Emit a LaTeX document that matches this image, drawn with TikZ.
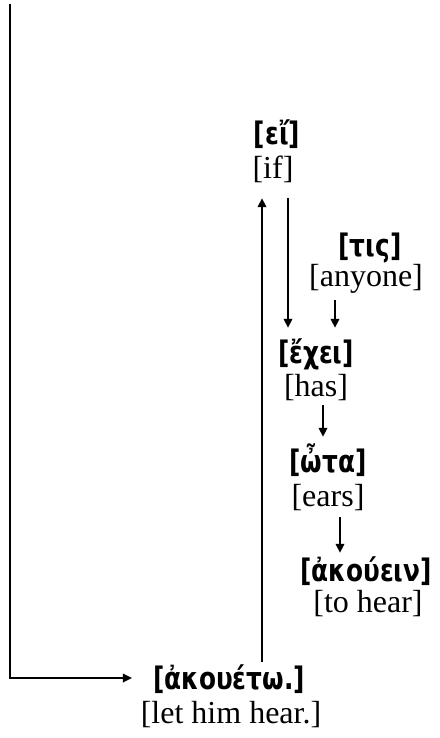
\documentclass[tikz,border=0pt]{standalone}
\usepackage{fontspec}
\setmainfont{Liberation Serif}
\newfontfamily\grk[FakeStretch=0.8]{DejaVu Sans}
\usetikzlibrary{arrows.meta}
\begin{document}
\begin{tikzpicture}[x=1pt,y=-1pt,
  gr/.style={inner sep=0pt, text height=23.5pt, text depth=4pt,
    font=\grk\bfseries\fontsize{31}{33}\selectfont},
  en/.style={inner sep=0pt, text height=22pt, text depth=6.5pt,
    font=\fontsize{32}{34}\selectfont},
  arr/.style={line width=1.9pt, -{Triangle[length=9pt,width=8.5pt]}}]
\useasboundingbox (0,0) rectangle (439,738);
\node[gr] (g1) at (277,134.5) {[εἴ]};
\node[en] (e1) at (273,171) {[if]};
\node[gr] (g2) at (370,247) {[τις]};
\node[en] (e2) at (366,279) {[anyone]};
\node[gr] (g3) at (316,354) {[ἔχει]};
\node[en] (e3) at (316,389) {[has]};
\node[gr] (g4) at (328,463) {[ὦτα]};
\node[en] (e4) at (328,499) {[ears]};
\node[gr] (g5) at (366,572) {[ἀκούειν]};
\node[en] (e5) at (368,605) {[to hear]};
\node[gr] (g7) at (229,680) {[ἀκουέτω.]};
\node[en] (e7) at (231,716) {[let him hear.]};
\coordinate (top) at (10,4);
\draw[arr, shorten >=21pt] (top) |- ([yshift=2pt]g7.west);
\draw[arr, shorten <=4.25pt, shorten >=12.75pt] (g7.north -| 262,0) -- (e1.south -| 262,0);
\draw[arr, shorten <=12.75pt, shorten >=12.25pt] (e1.south -| 288,0) -- (g3.north -| 288,0);
\draw[arr, shorten <=6.75pt, shorten >=12.25pt] (e2.south -| 335,0) -- (g3.north -| 335,0);
\draw[arr, shorten <=1.75pt, shorten >=12.25pt] (e3.south -| 323,0) -- (g4.north -| 323,0);
\draw[arr, shorten <=3.75pt, shorten >=5.25pt] (e4.south -| 340,0) -- (g5.north -| 340,0);
\end{tikzpicture}
\end{document}
